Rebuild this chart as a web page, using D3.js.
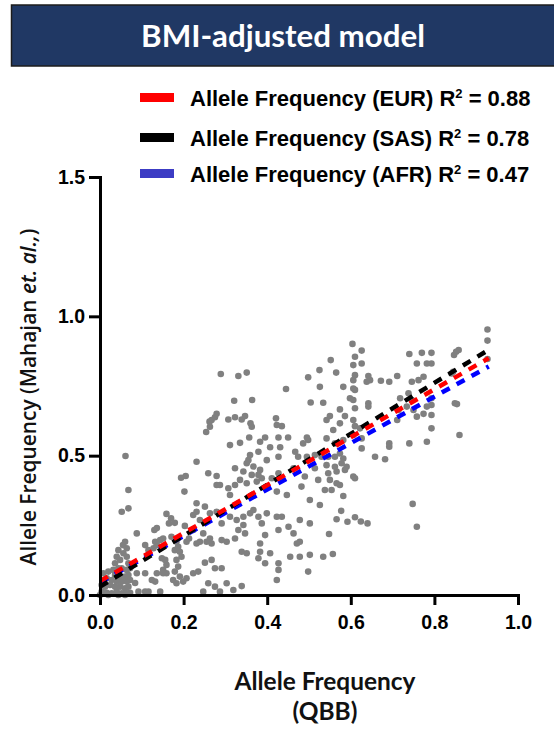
<!DOCTYPE html>
<html>
<head>
<meta charset="utf-8">
<script src="https://cdn.jsdelivr.net/npm/d3@7"></script>
<style>
  body { margin: 0; background: #fff; }
  svg { display: block; }
</style>
</head>
<body>
<svg id="chart"></svg>
<script>
// Tick labels
const xTicks = [0, 0.2, 0.4, 0.6, 0.8, 1.0];
const yTicks = [0, 0.5, 1.0, 1.5];

// Legend / fit lines (EUR, SAS, AFR)
const seriesNames = ['Allele Frequency (EUR)', 'Allele Frequency (SAS)', 'Allele Frequency (AFR)'];
const r2Values = ['0.88', '0.78', '0.47'];
const fitXRange = [0, 0.93];
const fitYStart = [0.05, 0.03, 0.045];   // fitted value at x = 0
const fitYEnd = [0.85, 0.88, 0.82];      // fitted value at x = 0.93

// Variants: [QBB frequency, Mahajan et al. frequency]
const points = [
  [.061,.499],[.068,.377],[.068,.311],[.052,.299],[.194,.421],[.205,.427],[.202,.371],
  [.159,.291],[.170,.275],[.165,.257],[.179,.259],[.203,.248],[.088,.221],[.060,.191],[.055,.179],[.064,.168],
  [.132,.191],[.144,.197],[.151,.203],[.108,.179],[.116,.161],[.128,.168],[.136,.179],
  [.148,.132],[.156,.126],[.159,.108],[.151,.090],[.171,.209],[.183,.191],[.187,.173],[.179,.161],[.191,.155],
  [.195,.137],[.183,.126],[.187,.102],[.179,.084],[.191,.066],[.199,.048],[.175,.054],[.183,.042],[.207,.060],
  [.207,.191],[.213,.203],[.088,.078],[.108,.078],[.136,.078],[.151,.078],[.159,.078],
  [.132,.048],[.084,.043],[.092,.012],[.108,.012],[.116,.012],[.144,.012],[.068,.030],
  [.008,.078],[.020,.084],[.032,.090],[.044,.096],[.052,.096],[.064,.090],[.036,.072],[.048,.066],[.060,.066],
  [.068,.072],[.016,.060],[.028,.054],[.040,.048],[.052,.048],[.064,.048],[.072,.054],[.004,.036],[.012,.030],
  [.024,.036],[.036,.030],[.048,.030],[.060,.024],[.004,.012],[.016,.008],[.028,.006],[.040,.012],[.052,.006],
  [.064,.006],[.072,.008],[.000,.000],[.020,.000],[.044,.000],[.060,.000],[.036,.114],[.048,.126],[.040,.137],
  [.056,.150],[.044,.161],[.064,.137],[.068,.114],[.072,.096],[.130,.233],[.136,.240],[.124,.054],
  [.289,.793],[.331,.786],[.351,.798],[.445,.739],[.498,.781],[.525,.807],[.526,.747],[.321,.697],[.364,.700],
  [.279,.650],[.275,.638],[.267,.628],[.262,.622],[.263,.604],[.254,.585],[.307,.630],[.323,.638],[.339,.630],
  [.347,.642],[.360,.616],[.363,.604],[.421,.634],[.423,.610],[.435,.606],[.504,.691],
  [.357,.565],[.395,.565],[.427,.565],[.450,.565],[.495,.565],[.311,.538],[.335,.546],[.383,.550],[.407,.530],
  [.431,.530],[.379,.514],[.359,.502],[.355,.484],[.351,.473],[.427,.496],[.399,.484],[.231,.478],
  [.467,.514],[.474,.496],[.486,.544],[.498,.556],[.495,.496],[.514,.502],[.514,.455],[.522,.413],
  [.259,.437],[.279,.427],[.323,.455],[.343,.443],[.367,.461],[.383,.449],[.363,.431],[.379,.431],
  [.279,.395],[.287,.395],[.307,.383],[.323,.395],[.311,.359],[.335,.413],[.351,.401],[.375,.407],[.387,.419],
  [.411,.419],[.427,.437],[.423,.371],[.447,.359],[.482,.389],[.490,.425],[.463,.455],[.502,.341],
  [.231,.329],[.231,.299],[.251,.317],[.263,.293],[.279,.299],[.223,.287],[.239,.269],
  [.291,.257],[.311,.281],[.327,.269],[.343,.281],[.359,.293],[.367,.305],[.379,.281],[.399,.293],[.387,.257],
  [.343,.251],[.331,.233],[.347,.221],[.323,.203],[.303,.191],[.291,.197],
  [.223,.233],[.247,.221],[.239,.191],[.255,.191],[.267,.185],[.231,.185],[.263,.203],
  [.351,.150],[.339,.155],[.383,.185],[.395,.215],[.423,.281],[.435,.281],[.427,.233],[.451,.245],[.463,.221],
  [.478,.269],[.502,.257],[.478,.191],[.471,.185],[.502,.144],
  [.383,.155],[.379,.132],[.407,.150],[.427,.114],[.427,.090],[.395,.114],[.423,.054],
  [.275,.096],[.291,.096],[.267,.126],[.251,.116],[.235,.084],[.223,.078],[.259,.042],[.275,.030],[.303,.042],
  [.319,.018],[.339,.032],[.287,.012],[.247,.012],[.498,.084],[.478,.137],[.455,.137],
  [.927,.953],[.927,.913],[.927,.847],[.604,.901],[.626,.877],[.552,.843],[.610,.855],[.606,.825],[.626,.831],
  [.565,.798],[.610,.789],[.606,.771],[.642,.786],[.646,.771],[.638,.765],[.672,.769],[.692,.765],[.711,.786],
  [.740,.865],[.770,.869],[.793,.869],[.758,.831],[.782,.831],[.793,.831],[.762,.771],[.746,.765],[.774,.783],
  [.852,.873],[.858,.879],[.847,.861],[.845,.801],[.841,.795],[.582,.747],[.606,.741],[.610,.736],
  [.534,.690],[.598,.706],[.606,.700],[.642,.688],[.642,.676],[.610,.670],
  [.738,.724],[.718,.706],[.746,.700],[.734,.676],[.714,.664],
  [.793,.706],[.793,.682],[.782,.676],[.774,.650],[.793,.646],[.793,.598],[.782,.550],[.750,.664],[.758,.640],
  [.849,.688],[.854,.685],[.860,.574],[.740,.544],[.692,.544],[.692,.532],[.658,.496],[.682,.487],[.626,.526],[.711,.628],
  [.542,.628],[.550,.642],[.574,.666],[.586,.642],[.606,.628],[.610,.606],[.558,.592],[.574,.616],[.622,.598],
  [.626,.562],[.606,.574],[.582,.556],[.562,.544],[.542,.562],
  [.530,.496],[.546,.496],[.562,.496],[.574,.508],[.582,.490],[.542,.466],[.562,.460],[.578,.473],[.590,.460],
  [.546,.437],[.566,.443],[.586,.449],[.606,.425],[.610,.419],[.550,.413],[.566,.401],[.574,.395],[.538,.377],[.554,.377],
  [.582,.355],[.526,.323],[.577,.302],[.566,.272],[.592,.263],[.610,.279],[.624,.264],[.640,.257],[.548,.219],
  [.534,.137],[.557,.147],[.748,.327],[.758,.245]
];

const swatchColors = ['#ff0000', '#000000', '#3c3cc4'];
const lineColors = ['#ff0000', '#000000', '#0000ff'];

// Set dimensions
const width = 554;
const height = 730;
const plot = { left: 100, right: 518, top: 177, bottom: 595 };

const svg = d3.select('#chart')
    .attr('width', width)
    .attr('height', height);

// scale a text's font size so it spans the width seen in the picture
const fitWidth = (sel, target) => {
    const size = parseFloat(sel.style('font-size'));
    const len = sel.node().getComputedTextLength();
    if (len > 0) sel.style('font-size', (size * target / len).toFixed(2) + 'px');
};

// Title banner
svg.append('rect')
    .attr('x', 11.5)
    .attr('y', 5)
    .attr('width', 560)
    .attr('height', 61)
    .attr('fill', '#203864')
    .attr('stroke', '#1c1c1c')
    .attr('stroke-width', 1.5);

const title = svg.append('text')
    .attr('x', 283)
    .attr('y', 47)
    .attr('text-anchor', 'middle')
    .attr('fill', '#fff')
    .style('font-family', 'Lato, sans-serif')
    .style('font-weight', 'bold')
    .style('font-size', '29px')
    .text('BMI-adjusted model');
fitWidth(title, 284);

// Set scales
const xScale = d3.scaleLinear().domain([0, 1]).range([plot.left, plot.right]);
const yScale = d3.scaleLinear().domain([0, 1.5]).range([plot.bottom, plot.top]);

// Points
svg.append('g')
    .selectAll('circle')
    .data(points)
    .enter()
    .append('circle')
    .attr('cx', d => xScale(d[0]))
    .attr('cy', d => yScale(d[1]))
    .attr('r', 3.3)
    .attr('fill', '#808080');

// Fit lines, drawn AFR -> SAS -> EUR so red sits on top
const line = d3.line().x(d => xScale(d[0])).y(d => yScale(d[1]));
[2, 1, 0].forEach(i => {
    svg.append('path')
        .datum([[fitXRange[0], fitYStart[i]], [fitXRange[1], fitYEnd[i]]])
        .attr('fill', 'none')
        .attr('stroke', lineColors[i])
        .attr('stroke-width', 4.5)
        .attr('stroke-dasharray', '9,8')
        .attr('d', line);
});

// Axes
const axisFont = g => g.selectAll('text')
    .attr('fill', '#000')
    .style('font-family', '"Liberation Sans", Arial, sans-serif')
    .style('font-weight', 'bold')
    .style('font-size', '19.5px');

const xAxis = svg.append('g')
    .attr('transform', `translate(0,${plot.bottom})`)
    .call(d3.axisBottom(xScale).tickValues(xTicks).tickFormat(d3.format('.1f'))
        .tickSize(10).tickPadding(10).tickSizeOuter(0))
    .call(axisFont);

const yAxis = svg.append('g')
    .attr('transform', `translate(${plot.left},0)`)
    .call(d3.axisLeft(yScale).tickValues(yTicks).tickFormat(d3.format('.1f'))
        .tickSize(11).tickPadding(4).tickSizeOuter(0))
    .call(axisFont);

[xAxis, yAxis].forEach(g => {
    g.select('.domain').attr('stroke', '#000').attr('stroke-width', 3).attr('stroke-linecap', 'square');
    g.selectAll('.tick line').attr('stroke', '#000').attr('stroke-width', 3);
});

// Legend
const legend = svg.append('g');
seriesNames.forEach((name, i) => {
    const cy = [97.5, 137.5, 173.5][i];
    legend.append('rect')
        .attr('x', 140)
        .attr('y', cy - 4.5)
        .attr('width', 34)
        .attr('height', 9)
        .attr('fill', swatchColors[i]);
    const t = legend.append('text')
        .attr('x', 190)
        .attr('y', cy + 8)
        .attr('fill', '#000')
        .style('font-family', '"Liberation Sans", Arial, sans-serif')
        .style('font-weight', 'bold')
        .style('font-size', '22px');
    t.append('tspan').text(name + ' R');
    t.append('tspan').attr('dy', -8).style('font-size', '13px').text('2');
    t.append('tspan').attr('dy', 8).text(' = ' + r2Values[i]);
});

// X-axis title
const xTitle1 = svg.append('text')
    .attr('x', 325)
    .attr('y', 690)
    .attr('text-anchor', 'middle')
    .attr('fill', '#111')
    .style('font-family', 'Lato, sans-serif')
    .style('font-weight', 'bold')
    .style('font-size', '23px')
    .text('Allele Frequency');
fitWidth(xTitle1, 181);
svg.append('text')
    .attr('x', 325)
    .attr('y', 720)
    .attr('text-anchor', 'middle')
    .attr('fill', '#111')
    .style('font-family', 'Lato, sans-serif')
    .style('font-weight', 'bold')
    .style('font-size', xTitle1.style('font-size'))
    .text('(QBB)');

// Y-axis title
const yTitle = svg.append('text')
    .attr('transform', 'translate(36,397) rotate(-90)')
    .attr('text-anchor', 'middle')
    .attr('fill', '#111')
    .style('font-family', '"Open Sans", sans-serif')
    .style('font-weight', 600)
    .style('font-size', '20px');
yTitle.append('tspan').text('Allele Frequency (Mahajan ');
yTitle.append('tspan').style('font-style', 'italic').text('et. al.,');
yTitle.append('tspan').text(')');
fitWidth(yTitle, 337);
</script>
</body>
</html>
